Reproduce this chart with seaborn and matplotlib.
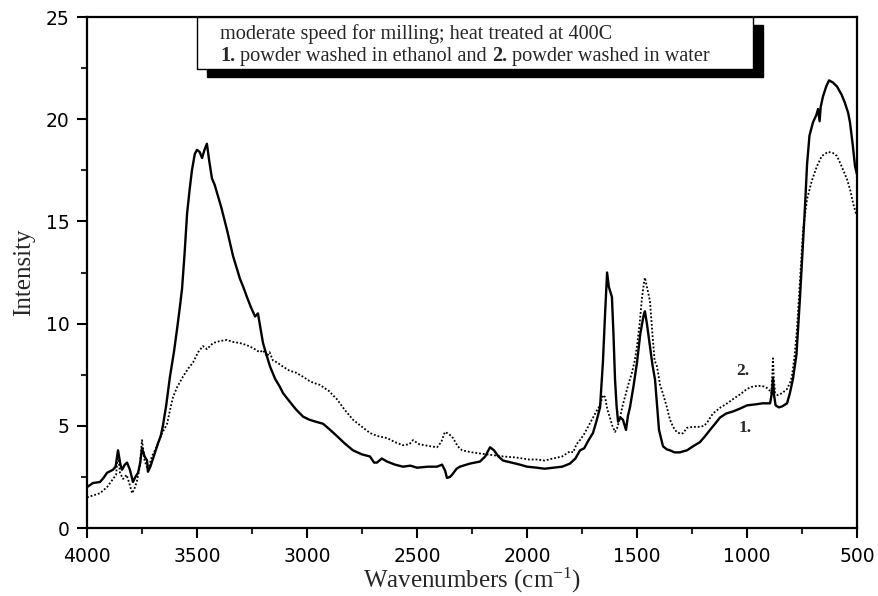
import numpy as np
import pandas as pd
import matplotlib
matplotlib.use("Agg")
import matplotlib.pyplot as plt
from matplotlib.patches import Rectangle
from matplotlib.ticker import MultipleLocator
import seaborn as sns

# Curve 1: powder washed in ethanol (solid)
wn_1 = [4000, 3973, 3941, 3925, 3909, 3882, 3870, 3859, 3848, 3841, 3828, 3818, 3805, 3791,
        3780, 3768, 3758, 3750, 3738, 3727, 3723, 3712, 3700, 3688, 3677, 3665, 3655, 3640,
        3623, 3605, 3591, 3578, 3568, 3556, 3545, 3533, 3523, 3510, 3500, 3488, 3477, 3466,
        3455, 3445, 3432, 3420, 3409, 3390, 3364, 3336, 3305, 3290, 3273, 3255, 3236, 3223,
        3212, 3200, 3185, 3168, 3145, 3123, 3109, 3080, 3050, 3018, 2990, 2960, 2927, 2900,
        2864, 2830, 2791, 2750, 2714, 2695, 2682, 2660, 2636, 2600, 2564, 2530, 2500, 2450,
        2409, 2386, 2372, 2364, 2350, 2341, 2320, 2305, 2260, 2214, 2190, 2168, 2150, 2130,
        2109, 2070, 2032, 2000, 1955, 1920, 1882, 1840, 1805, 1780, 1759, 1740, 1720, 1700,
        1685, 1668, 1655, 1645, 1636, 1628, 1614, 1607, 1600, 1593, 1586, 1575, 1564, 1550,
        1541, 1532, 1515, 1500, 1485, 1470, 1464, 1455, 1441, 1430, 1418, 1409, 1400, 1382,
        1365, 1350, 1330, 1305, 1290, 1273, 1245, 1214, 1190, 1168, 1145, 1123, 1095, 1064,
        1030, 1000, 960, 930, 895, 887, 882, 877, 870, 855, 840, 818, 805, 791, 775, 759,
        745, 736, 727, 716, 700, 685, 677, 670, 665, 655, 640, 627, 610, 591, 570, 555,
        540, 532, 520, 509, 500]
int_1 = [2.0, 2.2, 2.25, 2.45, 2.7, 2.85, 3.0, 3.8, 3.1, 2.85, 3.1, 3.2, 2.85, 2.25,
         2.5, 2.7, 3.2, 3.9, 3.5, 3.3, 2.75, 3.0, 3.4, 3.8, 4.15, 4.5, 5.0, 6.0,
         7.4, 8.6, 9.7, 10.8, 11.7, 13.5, 15.4, 16.6, 17.5, 18.3, 18.5, 18.4, 18.1, 18.5,
         18.8, 18.0, 17.1, 16.8, 16.4, 15.7, 14.6, 13.3, 12.2, 11.8, 11.3, 10.8, 10.35, 10.5,
         9.8, 9.05, 8.5, 7.9, 7.3, 6.9, 6.6, 6.2, 5.8, 5.45, 5.3, 5.2, 5.1, 4.85,
         4.5, 4.15, 3.8, 3.6, 3.5, 3.2, 3.2, 3.4, 3.25, 3.1, 3.0, 3.05, 2.95, 3.0,
         3.0, 3.1, 2.8, 2.45, 2.5, 2.6, 2.9, 3.0, 3.15, 3.25, 3.5, 3.95, 3.8, 3.5,
         3.3, 3.2, 3.1, 3.0, 2.95, 2.9, 2.95, 3.0, 3.15, 3.4, 3.8, 3.9, 4.3, 4.65,
         5.2, 5.9, 8.1, 10.5, 12.5, 11.8, 11.3, 9.5, 7.3, 6.0, 5.2, 5.4, 5.3, 4.8,
         5.5, 5.9, 7.0, 8.1, 9.5, 10.4, 10.6, 10.0, 8.9, 8.0, 7.25, 6.0, 4.8, 4.0,
         3.85, 3.8, 3.7, 3.7, 3.75, 3.8, 4.0, 4.2, 4.5, 4.8, 5.1, 5.4, 5.6, 5.7,
         5.85, 6.0, 6.05, 6.1, 6.1, 6.6, 7.3, 6.5, 6.0, 5.9, 5.95, 6.1, 6.6, 7.3, 8.5, 11.3,
         14.0, 15.8, 17.8, 19.2, 19.85, 20.2, 20.5, 19.9, 20.6, 21.1, 21.6, 21.9, 21.8, 21.6, 21.2, 20.8,
         20.3, 19.85, 18.8, 17.7, 17.3]

# Curve 2: powder washed in water (dotted)
wn_2 = [4000, 3970, 3941, 3909, 3882, 3868, 3859, 3850, 3836, 3820, 3808, 3795, 3785, 3773,
        3760, 3750, 3738, 3723, 3705, 3682, 3660, 3636, 3620, 3609, 3590, 3564, 3540, 3518,
        3495, 3473, 3455, 3427, 3395, 3364, 3335, 3305, 3275, 3245, 3215, 3200, 3182, 3170,
        3155, 3136, 3110, 3080, 3050, 3018, 2990, 2970, 2941, 2900, 2864, 2830, 2791, 2750,
        2714, 2680, 2636, 2600, 2564, 2535, 2518, 2490, 2440, 2409, 2390, 2373, 2355, 2336,
        2315, 2295, 2250, 2182, 2109, 2050, 1990, 1955, 1920, 1882, 1840, 1805, 1790, 1775,
        1759, 1740, 1720, 1700, 1680, 1668, 1655, 1645, 1635, 1623, 1612, 1600, 1590, 1577,
        1565, 1555, 1540, 1523, 1510, 1500, 1488, 1477, 1468, 1464, 1455, 1441, 1430, 1420,
        1409, 1395, 1380, 1364, 1350, 1336, 1320, 1300, 1290, 1273, 1245, 1214, 1195, 1182,
        1155, 1120, 1090, 1064, 1030, 1000, 980, 955, 930, 909, 895, 890, 885, 882,
        878, 872, 860, 840, 818, 805, 796, 785, 773, 760, 745, 727, 705, 682,
        660, 632, 610, 591, 570, 545, 530, 518, 505, 500]
int_2 = [1.5, 1.6, 1.7, 2.0, 2.4, 2.6, 3.6, 2.7, 2.4, 2.6, 2.2, 1.7, 1.9, 2.3,
         3.0, 4.3, 3.3, 2.85, 3.5, 4.0, 4.6, 5.1, 5.9, 6.4, 6.9, 7.4, 7.8, 8.1,
         8.6, 8.9, 8.75, 9.05, 9.15, 9.2, 9.1, 9.05, 8.95, 8.8, 8.6, 8.7, 8.4, 8.6,
         8.2, 8.1, 7.9, 7.7, 7.6, 7.4, 7.2, 7.1, 7.0, 6.7, 6.3, 5.8, 5.3, 4.95,
         4.65, 4.5, 4.4, 4.2, 4.05, 4.1, 4.3, 4.1, 4.0, 3.95, 4.2, 4.7, 4.6, 4.4,
         4.0, 3.8, 3.7, 3.6, 3.5, 3.45, 3.35, 3.35, 3.3, 3.4, 3.5, 3.75, 3.7, 4.1,
         4.3, 4.6, 5.0, 5.4, 5.8, 6.0, 6.5, 6.4, 5.8, 5.4, 5.0, 4.7, 4.9, 5.4,
         6.0, 6.4, 7.0, 7.6, 8.2, 8.9, 10.0, 11.3, 12.0, 12.25, 11.8, 11.1, 9.5, 8.2,
         7.9, 7.0, 6.5, 5.9, 5.3, 4.95, 4.7, 4.6, 4.65, 4.9, 4.95, 4.95, 5.0, 5.15,
         5.6, 5.9, 6.1, 6.3, 6.55, 6.8, 6.9, 6.95, 6.95, 6.85, 6.7, 6.6, 7.5, 8.3,
         7.3, 6.6, 6.5, 6.6, 6.8, 7.1, 7.4, 8.3, 9.7, 12.0, 14.6, 16.1, 17.0, 17.7,
         18.2, 18.4, 18.35, 18.2, 17.7, 17.05, 16.5, 15.9, 15.4, 15.3]

x_ticks = [4000, 3500, 3000, 2500, 2000, 1500, 1000, 500]
y_ticks = [0, 5, 10, 15, 20, 25]
box_line_1 = "moderate speed for milling; heat treated at 400C"
# second caption line: (text, bold?) pieces
box_line_2 = [("1.", True), ("powder washed in ethanol and", False),
              ("2.", True), ("powder washed in water", False)]

sns.set_style("ticks")
plt.rcParams["font.family"] = ["DejaVu Sans"]
plt.rcParams["mathtext.fontset"] = "custom"
plt.rcParams["mathtext.rm"] = "Liberation Serif"
plt.rcParams["mathtext.it"] = "Liberation Serif:italic"
plt.rcParams["mathtext.bf"] = "Liberation Serif:bold"
plt.rcParams["mathtext.default"] = "rm"

serif = ["Liberation Serif", "DejaVu Serif"]

fig = plt.figure(figsize=(8.79, 5.96), dpi=100)
ax = fig.add_axes([87 / 879, 1 - 528 / 596, 770 / 879, 511 / 596])

df1 = pd.DataFrame({"wn": wn_1, "intensity": int_1})
df2 = pd.DataFrame({"wn": wn_2, "intensity": int_2})
sns.lineplot(data=df2, x="wn", y="intensity", ax=ax, color="black", linewidth=1.3,
             estimator=None, sort=False, linestyle=(0, (1, 1.1)))
sns.lineplot(data=df1, x="wn", y="intensity", ax=ax, color="black", linewidth=1.7,
             estimator=None, sort=False)

ax.set_xlim(4000, 500)
ax.set_ylim(0, 25)
ax.set_xticks(x_ticks)
ax.set_yticks(y_ticks)
ax.xaxis.set_minor_locator(MultipleLocator(250))
ax.yaxis.set_minor_locator(MultipleLocator(2.5))
ax.tick_params(which="major", direction="out", length=7.5, width=1.5, labelsize=13.5, pad=5,
               colors="black")
ax.tick_params(which="minor", direction="out", length=4.5, width=1.5)
ax.tick_params(axis="x", which="major", pad=6)
for side in ["left", "right", "top", "bottom"]:
    ax.spines[side].set_visible(True)
    ax.spines[side].set_linewidth(1.6)
    ax.spines[side].set_color("black")

ax.set_xlabel(r"Wavenumbers (cm$^{-1}$)", family=serif, fontsize=18, labelpad=0)
ax.set_ylabel("Intensity", family=serif, fontsize=18, labelpad=8)

# Caption box with drop shadow
bx0, bx1 = (197 - 87) / 770, (753 - 87) / 770
by0, by1 = (528 - 69) / 511, (528 - 17) / 511
sdx, sdy = 10 / 770, -8 / 511
ax.add_patch(Rectangle((bx0 + sdx, by0 + sdy), bx1 - bx0, by1 - by0, transform=ax.transAxes,
                       facecolor="black", edgecolor="black", clip_on=False, zorder=5))
ax.add_patch(Rectangle((bx0, by0), bx1 - bx0, by1 - by0, transform=ax.transAxes,
                       facecolor="white", edgecolor="black", linewidth=1.0, clip_on=False, zorder=6))

cap_size = 14.6
space_pt = 0.25 * cap_size
tx = (220 - 87) / 770
ax.text(tx, (528 - 39) / 511, box_line_1, transform=ax.transAxes, family=serif,
        fontsize=cap_size, va="baseline", ha="left", zorder=7)

prev = None
for piece, bold in box_line_2:
    weight = "bold" if bold else "normal"
    if prev is None:
        prev = ax.text(tx, (528 - 61) / 511, piece, transform=ax.transAxes, family=serif,
                       fontsize=cap_size, fontweight=weight, va="baseline", ha="left", zorder=7)
    else:
        prev = ax.annotate(piece, xy=(1, 0), xycoords=prev, xytext=(space_pt, 0),
                           textcoords="offset points", family=serif, fontsize=cap_size,
                           fontweight=weight, va="bottom", ha="left", zorder=7)

# Curve labels
ax.text(1018, 7.7, "2.", family=serif, fontsize=12.5, fontweight="bold", ha="center", va="center")
ax.text(1009, 4.9, "1.", family=serif, fontsize=12.5, fontweight="bold", ha="center", va="center")

fig.savefig("out.png", dpi=100)
